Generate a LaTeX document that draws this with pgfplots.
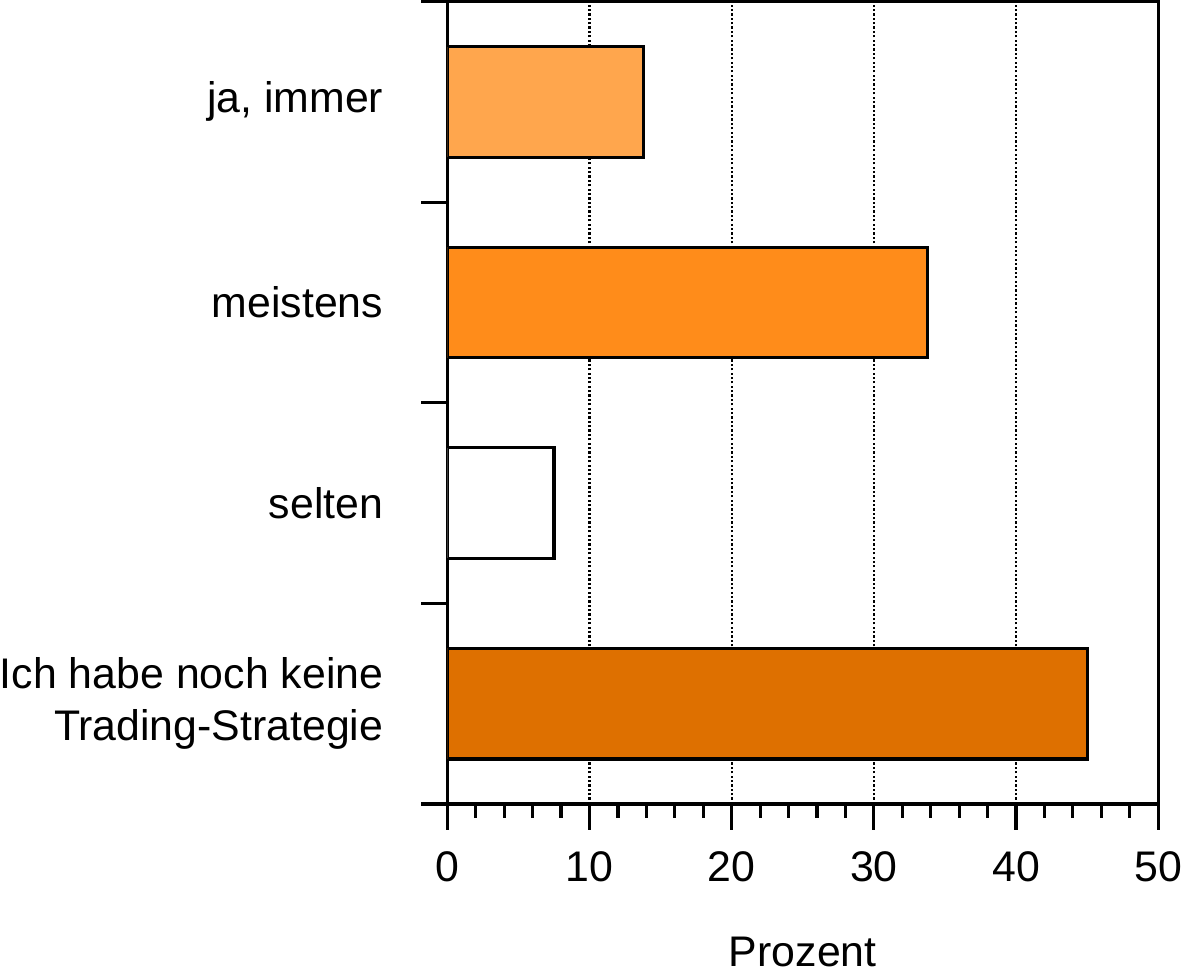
\documentclass[border=0pt]{standalone}
\usepackage{pgfplots}
\pgfplotsset{compat=1.18}
\usepackage{fontspec}
\setmainfont{Liberation Sans}

\definecolor{barA}{HTML}{FFA64D}
\definecolor{barB}{HTML}{FF8C1A}
\definecolor{barD}{HTML}{DE7000}

\begin{document}
\fontsize{21.5}{26}\selectfont
\begin{tikzpicture}
\begin{axis}[
    xbar, bar shift=0pt, bar width=55.5pt,
    scale only axis, width=357pt, height=403pt,
    xmin=0, xmax=50, ymin=-0.5, ymax=3.5,
    axis line style={line width=1.6pt},
    every tick/.style={black, line width=1.6pt},
    tick align=outside,
    xtick pos=bottom, ytick pos=left,
    xtick={0,10,20,30,40,50},
    minor x tick num=4,
    major tick length=13pt, minor tick length=7pt,
    xmajorgrids,
    major grid style={black, line width=1.1pt, dash pattern=on 1.1pt off 1.1pt},
    % category boundaries carry the tick marks, categories carry the names
    ytick={-0.5,0.5,1.5,2.5,3.5},
    yticklabels={},
    yticklabel style={inner sep=0pt},
    extra y ticks={0,1,2,3},
    extra y tick labels={{Ich habe noch keine\\Trading-Strategie},selten,meistens,{ja, immer}},
    extra y tick style={major tick length=0pt,
        yticklabel style={inner sep=0pt, align=right, xshift=-32pt}},
    xticklabel style={inner sep=0pt, yshift=-10.7pt},
    /pgf/number format/assume math mode=true,
    xlabel={Prozent},
    xlabel style={inner sep=0pt, text depth=3.5pt, yshift=-27.5pt},
]
\addplot[fill=barD, draw=black, line width=1.6pt] coordinates {(45.0,0)};
\addplot[fill=white, draw=black, line width=1.6pt] coordinates {(7.5,1)};
\addplot[fill=barB, draw=black, line width=1.6pt] coordinates {(33.8,2)};
\addplot[fill=barA, draw=black, line width=1.6pt] coordinates {(13.8,3)};
\end{axis}
\end{tikzpicture}
\end{document}
